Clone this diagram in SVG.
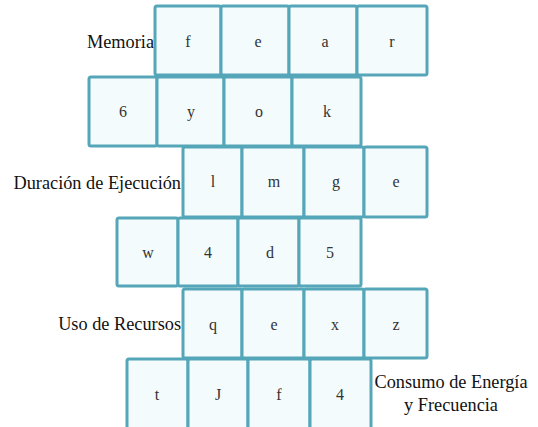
<svg xmlns="http://www.w3.org/2000/svg" width="538" height="427" viewBox="0 0 538 427">
<style>
.c{fill:#f4fbfc;stroke:#55a6b8;stroke-width:3}
.t{font-family:"Liberation Serif",serif;font-size:16px;fill:#333;text-anchor:middle}
.l{font-family:"Liberation Serif",serif;font-size:18.3px;fill:#111}
</style>
<rect width="538" height="427" fill="#fff"/>
<g id="labels">
<text class="l" x="154" y="48" text-anchor="end">Memoria</text>
<text class="l" x="181" y="189" text-anchor="end">Duración de Ejecución</text>
<text class="l" x="181" y="330" text-anchor="end">Uso de Recursos</text>
<text class="l" x="451" y="388" text-anchor="middle">Consumo de Energía</text>
<text class="l" x="451" y="411" text-anchor="middle">y Frecuencia</text>
</g>
<g id="row1">
<rect class="c" x="155" y="6" width="66" height="69" rx="2"/><text class="t" x="188" y="47">f</text>
<rect class="c" x="221" y="6" width="68" height="69" rx="2"/><text class="t" x="258" y="47">e</text>
<rect class="c" x="289" y="6" width="68" height="69" rx="2"/><text class="t" x="325" y="47">a</text>
<rect class="c" x="357" y="6" width="70" height="69" rx="2"/><text class="t" x="392" y="47">r</text>
</g>
<g id="row2">
<rect class="c" x="89" y="77" width="68" height="69" rx="2"/><text class="t" x="123" y="117">6</text>
<rect class="c" x="157" y="77" width="67" height="69" rx="2"/><text class="t" x="191" y="117">y</text>
<rect class="c" x="224" y="77" width="68" height="69" rx="2"/><text class="t" x="259" y="117">o</text>
<rect class="c" x="292" y="77" width="69" height="69" rx="2"/><text class="t" x="327" y="117">k</text>
</g>
<g id="row3">
<rect class="c" x="183" y="147" width="59" height="70" rx="2"/><text class="t" x="213" y="187">l</text>
<rect class="c" x="242" y="147" width="62" height="70" rx="2"/><text class="t" x="274" y="187">m</text>
<rect class="c" x="304" y="147" width="60" height="70" rx="2"/><text class="t" x="336" y="187">g</text>
<rect class="c" x="364" y="147" width="63" height="70" rx="2"/><text class="t" x="396" y="187">e</text>
</g>
<g id="row4">
<rect class="c" x="117" y="218" width="61" height="68" rx="2"/><text class="t" x="148" y="258">w</text>
<rect class="c" x="178" y="218" width="60" height="68" rx="2"/><text class="t" x="208" y="258">4</text>
<rect class="c" x="238" y="218" width="61" height="68" rx="2"/><text class="t" x="270" y="258">d</text>
<rect class="c" x="299" y="218" width="62" height="68" rx="2"/><text class="t" x="330" y="258">5</text>
</g>
<g id="row5">
<rect class="c" x="183" y="289" width="59" height="69" rx="2"/><text class="t" x="213" y="330">q</text>
<rect class="c" x="242" y="289" width="62" height="69" rx="2"/><text class="t" x="274" y="330">e</text>
<rect class="c" x="304" y="289" width="60" height="69" rx="2"/><text class="t" x="335" y="330">x</text>
<rect class="c" x="364" y="289" width="63" height="69" rx="2"/><text class="t" x="396" y="330">z</text>
</g>
<g id="row6">
<rect class="c" x="127" y="359" width="61" height="72" rx="2"/><text class="t" x="157" y="400">t</text>
<rect class="c" x="188" y="359" width="60" height="72" rx="2"/><text class="t" x="218" y="400">J</text>
<rect class="c" x="248" y="359" width="62" height="72" rx="2"/><text class="t" x="279" y="400">f</text>
<rect class="c" x="310" y="359" width="61" height="72" rx="2"/><text class="t" x="340" y="400">4</text>
</g>
<g id="connectors"/>
</svg>
